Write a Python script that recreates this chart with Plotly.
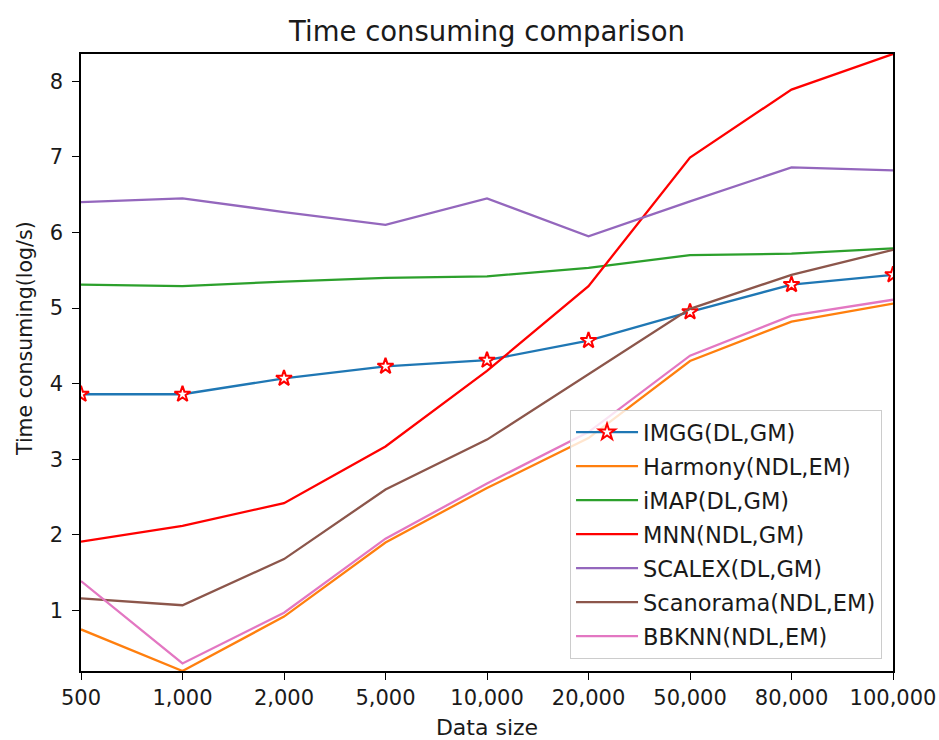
import plotly.graph_objects as go

data_sizes = ["500", "1,000", "2,000", "5,000", "10,000", "20,000", "50,000", "80,000", "100,000"]

imgg = [3.86, 3.86, 4.07, 4.23, 4.31, 4.57, 4.95, 5.31, 5.44]
harmony = [0.75, 0.20, 0.92, 1.90, 2.62, 3.28, 4.30, 4.82, 5.06]
imap = [5.31, 5.29, 5.35, 5.40, 5.42, 5.53, 5.70, 5.72, 5.79]
mnn = [1.91, 2.12, 2.42, 3.17, 4.17, 5.29, 6.99, 7.89, 8.36]
scalex = [6.40, 6.45, 6.27, 6.10, 6.45, 5.95, 6.41, 6.86, 6.82]
scanorama = [1.16, 1.07, 1.68, 2.60, 3.26, 4.12, 4.99, 5.44, 5.77]
bbknn = [1.39, 0.30, 0.97, 1.95, 2.68, 3.36, 4.37, 4.90, 5.11]

series_names = ["IMGG(DL,GM)", "Harmony(NDL,EM)", "iMAP(DL,GM)", "MNN(NDL,GM)",
                "SCALEX(DL,GM)", "Scanorama(NDL,EM)", "BBKNN(NDL,EM)"]
series_values = [imgg, harmony, imap, mnn, scalex, scanorama, bbknn]
series_colors = ["#1f77b4", "#ff7f0e", "#2ca02c", "#ff0000", "#9467bd", "#8c564b", "#e377c2"]

FONT = "DejaVu Sans"
TXT = "#1a1a1a"

fig = go.Figure()
for name, vals, color in zip(series_names, series_values, series_colors):
    if name.startswith("IMGG"):
        fig.add_trace(go.Scatter(
            x=data_sizes, y=vals, name=name, legendgroup=name, mode="lines+markers",
            line=dict(color=color, width=2.3),
            marker=dict(symbol="star", size=12, color="white", line=dict(color="red", width=2)),
        ))
    else:
        fig.add_trace(go.Scatter(
            x=data_sizes, y=vals, name=name, legendgroup=name, mode="lines",
            line=dict(color=color, width=2.3),
        ))

all_vals = [v for s in series_values for v in s]
ymin, ymax = min(all_vals), max(all_vals)

axis_common = dict(
    showline=True, linecolor="black", linewidth=1.5, mirror=True,
    ticks="outside", ticklen=7, tickwidth=1.3, tickcolor="black",
    showgrid=False, zeroline=False, automargin=False,
    tickfont=dict(family=FONT, size=21, color=TXT),
)

fig.update_layout(
    width=939, height=740, autosize=False,
    margin=dict(l=81, r=46, t=54, b=69, autoexpand=False),
    paper_bgcolor="white", plot_bgcolor="white",
    font=dict(family=FONT, color=TXT),
    title=dict(text="Time consuming comparison", x=0.5, xref="paper", xanchor="center",
               y=0.958, yref="container", yanchor="middle",
               font=dict(family=FONT, size=27.5, color=TXT)),
    xaxis=dict(axis_common, type="category", range=[0, len(data_sizes) - 1],
               ticklabelstandoff=0,
               title=dict(text="Data size", font=dict(family=FONT, size=22, color=TXT), standoff=15)),
    yaxis=dict(axis_common, range=[ymin, ymax], dtick=1, tick0=0,
               ticklabelstandoff=5),
    legend=dict(
        x=0.9865, y=0.0194, xanchor="right", yanchor="bottom",
        bgcolor="rgba(255,255,255,0.8)", bordercolor="#cccccc", borderwidth=1,
        font=dict(family=FONT, size=22.5, color=TXT),
        tracegroupgap=1.75, traceorder="grouped", itemwidth=62,
    ),
    showlegend=True,
    annotations=[dict(
        text="Time consuming(log/s)", textangle=-90, showarrow=False,
        xref="paper", yref="paper", x=-0.069, y=0.5397,
        xanchor="center", yanchor="middle",
        font=dict(family=FONT, size=20.5, color=TXT),
    )],
)

fig.write_html(
    "out.html",
    config={"displayModeBar": False},
    post_script="document.body.style.margin='0';document.body.style.overflow='hidden';",
)
